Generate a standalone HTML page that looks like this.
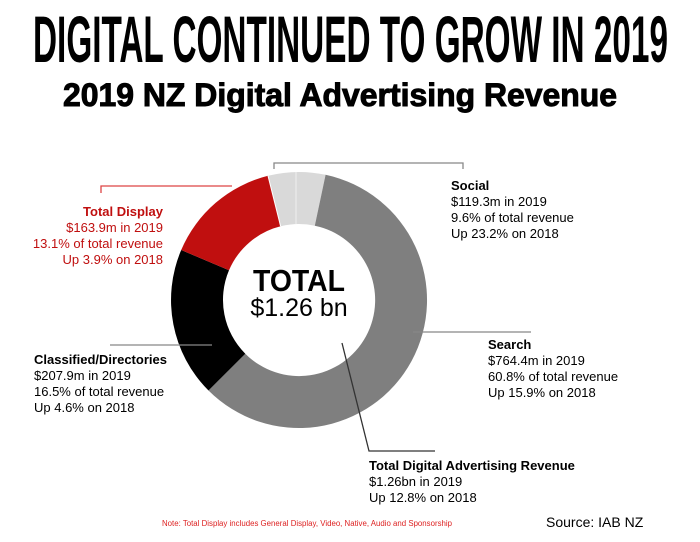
<!DOCTYPE html>
<html><head><meta charset="utf-8"><style>
html,body{margin:0;padding:0;background:#fff;}
svg{display:block}
text{font-family:"Liberation Sans",sans-serif;}
</style></head><body>
<svg width="700" height="542" viewBox="0 0 700 542" xmlns="http://www.w3.org/2000/svg">
<rect width="700" height="542" fill="#fff"/>
<text x="33" y="62" font-size="66" font-weight="bold" textLength="635" lengthAdjust="spacingAndGlyphs" fill="#000">DIGITAL CONTINUED TO GROW IN 2019</text>
<text x="63" y="106" font-size="32" font-weight="bold" textLength="554" lengthAdjust="spacingAndGlyphs" fill="#000" stroke="#000" stroke-width="1">2019 NZ Digital Advertising Revenue</text>

<!-- donut -->
<path d="M268,175.8 A128,128 0 0 1 325.6,174.8 L314.8,225.7 A76,76 0 0 0 280.6,226.3 Z" fill="#d9d9d9"/>
<path d="M325.6,174.8 A128,128 0 1 1 208.5,390.5 L245.3,353.7 A76,76 0 1 0 314.8,225.7 Z" fill="#7f7f7f"/>
<path d="M208.5,390.5 A128,128 0 0 1 181.2,250 L229,270.3 A76,76 0 0 0 245.3,353.7 Z" fill="#000"/>
<path d="M181.2,250 A128,128 0 0 1 268,175.8 L280.6,226.3 A76,76 0 0 0 229,270.3 Z" fill="#c00f0f"/>
<line x1="268" y1="175.8" x2="280.6" y2="226.3" stroke="#fff" stroke-width="1"/>
<line x1="296" y1="172" x2="296" y2="224" stroke="#eee" stroke-width="1"/>

<!-- leader lines -->
<polyline points="101,193 101,186 232,186" fill="none" stroke="#d44" stroke-width="1.3"/>
<polyline points="274,169 274,163 463,163 463,169" fill="none" stroke="#888" stroke-width="1.3"/>
<line x1="110" y1="345" x2="212" y2="345" stroke="#888" stroke-width="1.3"/>
<line x1="413" y1="332" x2="531" y2="332" stroke="#888" stroke-width="1.3"/>
<polyline points="342,343 369,451 435,451" fill="none" stroke="#333" stroke-width="1.3"/>

<!-- center -->
<text x="299" y="291" font-size="31" font-weight="bold" text-anchor="middle" textLength="92" lengthAdjust="spacingAndGlyphs">TOTAL</text>
<text x="299" y="316" font-size="25" text-anchor="middle">$1.26 bn</text>

<!-- labels -->
<g font-size="13" fill="#c00f0f" text-anchor="end">
<text x="163" y="216" font-weight="bold">Total Display</text>
<text x="163" y="232">$163.9m in 2019</text>
<text x="163" y="248">13.1% of total revenue</text>
<text x="163" y="264">Up 3.9% on 2018</text>
</g>
<g font-size="13" fill="#000">
<text x="451" y="190" font-weight="bold">Social</text>
<text x="451" y="206">$119.3m in 2019</text>
<text x="451" y="222">9.6% of total revenue</text>
<text x="451" y="238">Up 23.2% on 2018</text>

<text x="488" y="349" font-weight="bold">Search</text>
<text x="488" y="365">$764.4m in 2019</text>
<text x="488" y="381">60.8% of total revenue</text>
<text x="488" y="397">Up 15.9% on 2018</text>

<text x="34" y="364" font-weight="bold">Classified/Directories</text>
<text x="34" y="380">$207.9m in 2019</text>
<text x="34" y="396">16.5% of total revenue</text>
<text x="34" y="412">Up 4.6% on 2018</text>

<text x="369" y="470" font-weight="bold">Total Digital Advertising Revenue</text>
<text x="369" y="486">$1.26bn in 2019</text>
<text x="369" y="502">Up 12.8% on 2018</text>
</g>
<text x="162" y="526" font-size="8" fill="#d22" textLength="290" lengthAdjust="spacingAndGlyphs">Note: Total Display includes General Display, Video, Native, Audio and Sponsorship</text>
<text x="546" y="527" font-size="14" fill="#000">Source: IAB NZ</text>
</svg>
</body></html>
